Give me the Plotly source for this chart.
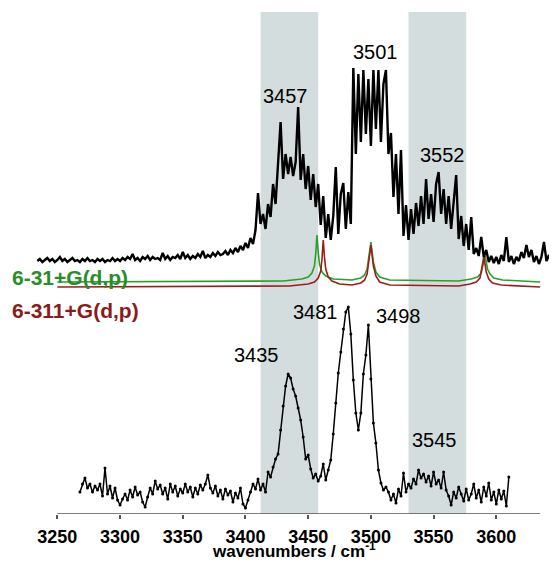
import plotly.graph_objects as go

# ---------------- data (intensity in arbitrary units) ----------------
top_start, top_step = 3234, 2
top_y = [253,255,252,254,256,253,255,252,254,257,253,255,252,254,256,253,254,252,255,253,
         256,253,254,252,255,253,255,252,254,253,256,253,255,253,
         256,254,257,255,260,254,256,253,257,255,258,254,257,255,256,254,261,255,258,254,
         257,256,259,255,262,256,259,255,258,256,260,257,263,256,259,257,261,258,262,259,
         260,263,259,264,261,266,262,268,264,271,266,276,270,284,321,290,
         300,285,310,297,330,310,350,392,335,360,340,357,338,352,
         407,334,360,325,348,314,340,307,330,289,318,276,300,274,298,347,280,320,331,285,322,290,446,
         360,440,372,444,380,435,368,444,385,444,372,430,444,360,
         381,317,360,300,364,278,309,274,305,280,311,288,318,
         290,335,295,320,292,330,342,300,325,290,318,285,312,
         339,275,298,268,290,264,297,260,266,258,277,257,264,
         252,258,251,257,250,259,253,277,252,258,250,257,253,262,256,269,257,264,252,258,
         250,257,272,253,259,250,256,252]

bot_start, bot_step = 3268, 2
bot_y = [22,30,36,26,30,22,28,24,30,18,46,20,28,16,26,14,9,15,20,14,
         24,17,27,19,22,12,7,17,26,20,33,25,29,20,26,15,30,22,28,18,
         25,21,30,22,27,17,26,20,29,24,30,39,26,21,28,18,24,15,25,19,
         23,12,21,16,26,10,6,14,22,30,25,35,
         24,30,22,42,37,47,55,60,84,108,128,140,136,125,118,106,94,77,55,59,
         45,36,40,33,38,50,34,44,54,80,111,141,162,185,202,207,180,134,101,84,
         101,140,159,189,135,91,71,44,31,24,27,22,
         14,20,11,25,18,41,22,30,26,35,30,44,36,40,32,38,28,42,30,34,
         26,42,24,18,9,22,16,27,20,13,25,14,20,30,16,24,12,27,18,31,
         14,22,10,24,15,23,8,37]

green_x = [3250, 3430, 3445, 3450, 3453, 3455, 3456, 3457, 3458, 3459, 3461, 3464, 3470, 3485,
           3492, 3495, 3497, 3498, 3499, 3500, 3501, 3502, 3504, 3507, 3515, 3570, 3580, 3585,
           3588, 3589, 3590, 3591, 3592, 3593, 3595, 3598, 3605, 3635]
green_y = [232, 233, 235, 237, 241, 248, 260, 279, 262, 250, 242, 238, 235, 234, 236, 239, 245,
           252, 263, 272, 262, 252, 242, 237, 234, 233, 235, 237, 241, 246, 253, 258, 252, 245,
           240, 236, 234, 232]

red_x = [3250, 3435, 3450, 3455, 3458, 3460, 3461, 3462, 3463, 3464, 3466, 3469, 3475, 3485,
         3492, 3495, 3497, 3498, 3499, 3500, 3501, 3502, 3504, 3507, 3515, 3570, 3579, 3584,
         3587, 3588, 3589, 3590, 3591, 3592, 3594, 3597, 3604, 3635]
red_y = [227, 228, 230, 232, 236, 243, 255, 274, 257, 245, 237, 233, 230, 229, 231, 234, 240,
         248, 259, 269, 259, 248, 238, 232, 229, 228, 230, 232, 236, 242, 250, 257, 250, 242,
         235, 231, 229, 227]

bands = [(3412, 3458), (3530, 3576)]

peak_labels = ["3457", "3501", "3552", "3435", "3481", "3498", "3545"]
peak_label_x = [3432, 3504, 3557, 3409, 3456, 3522, 3551]
peak_label_y = [418, 462, 359, 159, 202, 198, 74]

tick_vals = [3250, 3300, 3350, 3400, 3450, 3500, 3550, 3600]

# ---------------- figure ----------------
top_x = [top_start + top_step * i for i in range(len(top_y))]
bot_x = [bot_start + bot_step * i for i in range(len(bot_y))]

FONT = "Liberation Sans, Arial"

fig = go.Figure()
fig.add_trace(go.Scatter(x=green_x, y=green_y, mode="lines",
                         line=dict(color="#26a226", width=1.6), hoverinfo="skip"))
fig.add_trace(go.Scatter(x=red_x, y=red_y, mode="lines",
                         line=dict(color="#9a1e1e", width=1.6), hoverinfo="skip"))
fig.add_trace(go.Scatter(x=top_x, y=top_y, mode="lines",
                         line=dict(color="black", width=2.4), hoverinfo="skip"))
fig.add_trace(go.Scatter(x=bot_x, y=bot_y, mode="lines+markers",
                         line=dict(color="black", width=1.5),
                         marker=dict(color="black", size=3), hoverinfo="skip"))

for x0, x1 in bands:
    fig.add_shape(type="rect", x0=x0, x1=x1, y0=0, y1=502, xref="x", yref="y",
                  fillcolor="#d4dddd", line=dict(width=0), layer="below")

fig.add_shape(type="line", x0=3250, x1=3635, y0=0, y1=0, xref="x", yref="y",
              line=dict(color="#555555", width=1.5))

for t, xx, yy in zip(peak_labels, peak_label_x, peak_label_y):
    fig.add_annotation(x=xx, y=yy, text=t, showarrow=False,
                       font=dict(family=FONT, size=20, color="black"))

fig.add_annotation(x=-0.030, y=237, xref="paper", yref="y", xanchor="left",
                   text="6-31+G(d,p)", showarrow=False,
                   font=dict(family=FONT, size=21, color="#2a8c2a", weight="bold"))
fig.add_annotation(x=-0.030, y=204, xref="paper", yref="y", xanchor="left",
                   text="6-311+G(d,p)", showarrow=False,
                   font=dict(family=FONT, size=21, color="#8b1a1a", weight="bold"))

fig.add_annotation(x=3439, y=-0.071, xref="x", yref="paper", yanchor="middle",
                   text="wavenumbers / cm<sup>-1</sup>", showarrow=False,
                   font=dict(family=FONT, size=17, color="black", weight="bold"))

# page body has an 8 px margin, so the figure is 8 px smaller each way
fig.update_layout(
    width=549, height=562,
    margin=dict(l=18, r=0, t=2, b=56, autoexpand=False),
    paper_bgcolor="white", plot_bgcolor="white",
    showlegend=False,
    xaxis=dict(range=[3225, 3648.4], tickvals=tick_vals, ticks="outside", ticklen=4,
               tickwidth=1.5, tickcolor="#555555", showline=False, showgrid=False,
               zeroline=False, ticklabelstandoff=2, automargin=False,
               tickfont=dict(family=FONT, size=18, color="black", weight="bold")),
    yaxis=dict(range=[0, 504], visible=False, showgrid=False, zeroline=False),
)

fig.write_html("out.html")
